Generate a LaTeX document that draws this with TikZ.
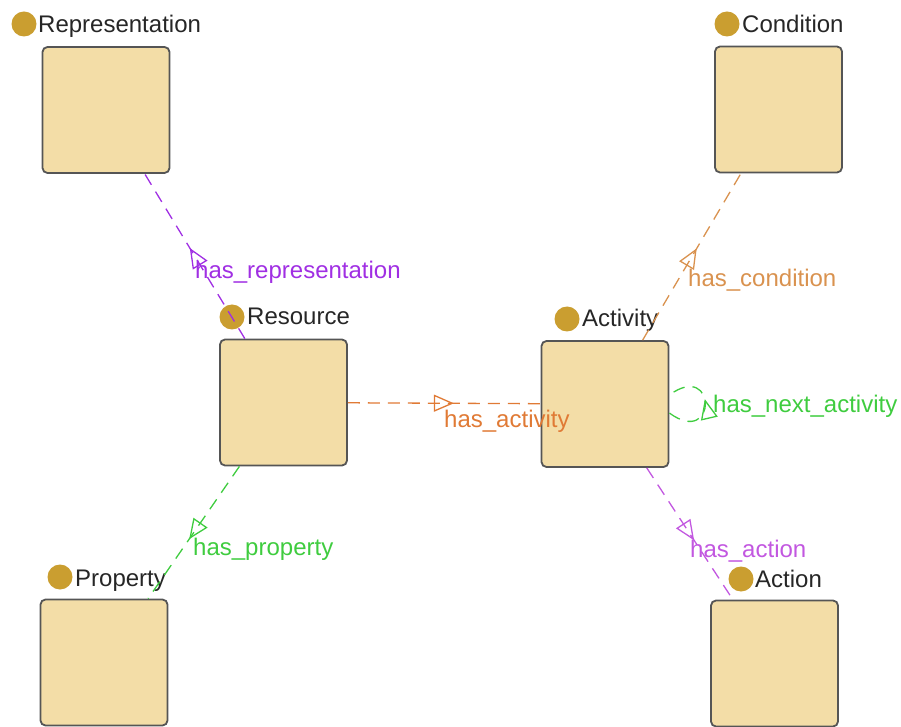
\documentclass[tikz,border=0pt]{standalone}
\usepackage{fontspec}
\setmainfont{Liberation Sans}
\usetikzlibrary{arrows.meta,decorations.markings}

\definecolor{clsfill}{HTML}{F3DDA7}
\definecolor{clsline}{HTML}{555555}
\definecolor{clsdot}{HTML}{CA9E30}
\definecolor{relpurple}{HTML}{A02FE3}
\definecolor{rellilac}{HTML}{C257E0}
\definecolor{relorange}{HTML}{E07A35}
\definecolor{reltan}{HTML}{D9924F}
\definecolor{relgreen}{HTML}{3FCC3F}

\begin{document}
\begin{tikzpicture}[x=1pt,y=1pt,
  cls/.style={draw=clsline, fill=clsfill, line width=1.8pt, rounded corners=5pt,
    minimum width=127pt, minimum height=126pt},
  dot/.style={circle, fill=clsdot, minimum size=25pt, inner sep=0pt},
  clslabel/.style={anchor=base west, inner sep=0pt, text=black!85,
    font=\fontsize{24}{28}\selectfont},
  rel/.style={color=#1, line width=1.3pt, dash pattern=on 12pt off 8pt,
    postaction={decorate}, decoration={markings,
      mark=at position 0.55 with {\arrow{Triangle[open,length=20pt,width=17pt]}}}},
  rellabel/.style={anchor=base west, inner sep=0pt, text=#1,
    font=\fontsize{24}{28}\selectfont}]
\useasboundingbox (0,0) rectangle (901,726);
%
\node[cls] (rep) at (106,616) {};
\node[cls] (cond) at (778.5,616.5) {};
\node[cls] (res) at (283.5,323.5) {};
\node[cls] (act) at (605,322) {};
\node[cls] (prop) at (104,63.5) {};
\node[cls] (actn) at (774.5,62.5) {};
%
\node[dot] (rep-dot) at (24,702) {};
\node[clslabel] (rep-name) at (38,693) {Representation};
\node[dot] (cond-dot) at (727,702) {};
\node[clslabel] (cond-name) at (742,693) {Condition};
\node[dot] (res-dot) at (232,409) {};
\node[clslabel] (res-name) at (247,401) {Resource};
\node[dot] (act-dot) at (567,407) {};
\node[clslabel] (act-name) at (582,399) {Activity};
\node[dot] (prop-dot) at (60,149) {};
\node[clslabel] (prop-name) at (75,140) {Property};
\node[dot] (actn-dot) at (741,147) {};
\node[clslabel] (actn-name) at (755,139) {Action};
%
\draw[rel=relpurple] (res) -- (rep);
\draw[rel=relorange] (res) -- (act);
\draw[rel=reltan] (act) -- (cond);
\draw[rel=relgreen] (res) -- (prop);
\draw[rel=rellilac] (act) -- (actn);
\draw[rel=relgreen] (act.-8) .. controls +(48,-35) and +(48,35) .. (act.8);
%
\node[rellabel=relpurple] (has-rep) at (195,447) {has\_representation};
\node[rellabel=relorange] (has-act) at (444,299) {has\_activity};
\node[rellabel=reltan] (has-cond) at (688,439) {has\_condition};
\node[rellabel=relgreen] (has-prop) at (193,171) {has\_property};
\node[rellabel=rellilac] (has-actn) at (690,169) {has\_action};
\node[rellabel=relgreen] (has-next) at (713,313) {has\_next\_activity};
\end{tikzpicture}
\end{document}
